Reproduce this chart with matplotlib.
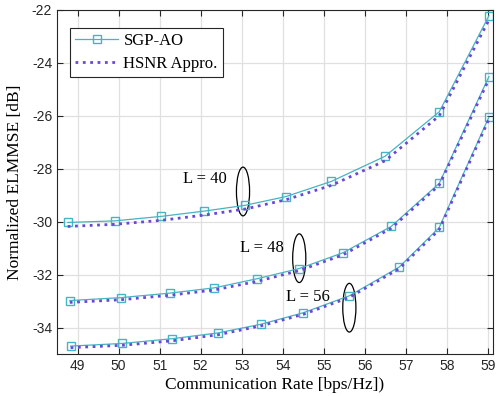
import matplotlib
matplotlib.use('Agg')
import matplotlib.pyplot as plt
from matplotlib.patches import Ellipse

plt.rcParams['axes.unicode_minus'] = False

# rate [bps/Hz] and ELMMSE [dB] for each L
rate_40 = [48.76, 49.90, 51.04, 52.09, 53.09, 54.08, 55.18, 56.49, 57.81, 59.02]
sgp_40 = [-30.03, -29.97, -29.80, -29.60, -29.38, -29.05, -28.48, -27.53, -25.85, -22.22]
hsnr_40 = [-30.18, -30.10, -29.95, -29.75, -29.52, -29.17, -28.63, -27.70, -26.00, -22.38]

rate_48 = [48.81, 50.05, 51.24, 52.33, 53.36, 54.40, 55.47, 56.64, 57.81, 59.02]
sgp_48 = [-32.98, -32.87, -32.70, -32.50, -32.16, -31.77, -31.17, -30.18, -28.55, -24.52]
hsnr_48 = [-33.05, -32.95, -32.78, -32.58, -32.26, -31.85, -31.25, -30.25, -28.62, -24.62]

rate_56 = [48.83, 50.09, 51.31, 52.43, 53.48, 54.50, 55.62, 56.83, 57.81, 59.02]
sgp_56 = [-34.70, -34.60, -34.42, -34.20, -33.87, -33.44, -32.80, -31.72, -30.22, -26.05]
hsnr_56 = [-34.76, -34.67, -34.50, -34.27, -33.93, -33.50, -32.86, -31.78, -30.30, -26.13]

labels = ['L = 40', 'L = 48', 'L = 56']
label_xy = [(52.1, -28.4), (53.5, -31.0), (54.6, -32.85)]
ell_xy = [(53.03, -28.86), (54.40, -31.38), (55.62, -33.25)]

c_sgp = '#45b4c4'
c_hsnr = '#6a48d6'

fig = plt.figure(figsize=(4.96, 3.96), dpi=100)
ax = fig.add_axes([0.115, 0.106, 0.879, 0.869])

for i, (r, s, h) in enumerate([(rate_40, sgp_40, hsnr_40),
                               (rate_48, sgp_48, hsnr_48),
                               (rate_56, sgp_56, hsnr_56)]):
    ax.plot(r, s, '-s', color=c_sgp, lw=0.9, ms=6, mfc='none', mew=1.0,
            label='SGP-AO' if i == 0 else None)
    ax.plot(r, h, ':', color=c_hsnr, lw=2.0,
            label='HSNR Appro.' if i == 0 else None)

for lab, (tx, ty), (ex, ey) in zip(labels, label_xy, ell_xy):
    ax.text(tx, ty, lab, family='Liberation Serif', fontsize=12,
            va='center', ha='center')
    ax.add_patch(Ellipse((ex, ey), 0.32, 1.84, fill=False, color='black', lw=0.9))

ax.set_xlim(48.5, 59.12)
ax.set_ylim(-35, -22)
ax.set_xticks(range(49, 60))
ax.set_yticks(range(-34, -21, 2))
ax.grid(True, color='#e0e0e0', lw=0.9)
ax.set_axisbelow(True)
ax.tick_params(direction='in', top=True, right=True, length=4, labelsize=10,
               colors='#262626')
for lbl in ax.get_xticklabels() + ax.get_yticklabels():
    lbl.set_family('Liberation Sans')
for sp in ax.spines.values():
    sp.set_color('#262626')
    sp.set_linewidth(0.8)

ax.set_xlabel('Communication Rate [bps/Hz])', family='Liberation Serif', fontsize=12.5,
              labelpad=3)
ax.set_ylabel('Normalized ELMMSE [dB]', family='Liberation Serif', fontsize=12.5,
              labelpad=6)

leg = ax.legend(loc='upper left', bbox_to_anchor=(0.03, 0.948),
                prop={'family': 'Liberation Serif', 'size': 12},
                fancybox=False, framealpha=1, edgecolor='#262626',
                handlelength=2.6, handletextpad=0.3, borderpad=0.3,
                labelspacing=0.45, borderaxespad=0)
leg.get_frame().set_linewidth(0.8)

fig.savefig('out.png', dpi=100)
